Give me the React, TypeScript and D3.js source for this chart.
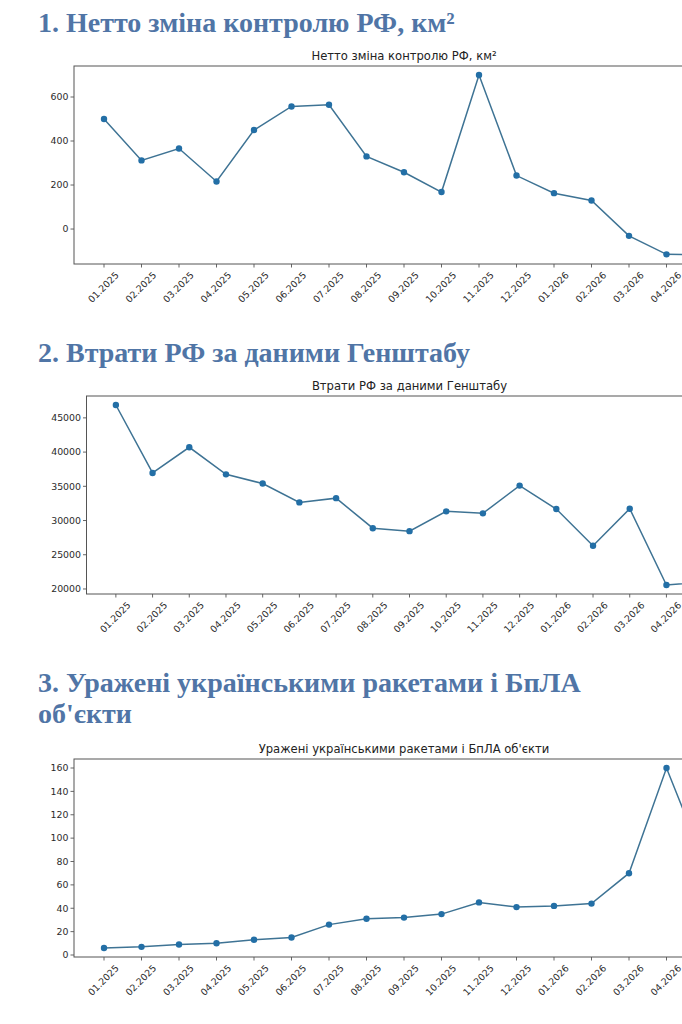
import * as d3 from "d3";

const months = [
  "01.2025", "02.2025", "03.2025", "04.2025", "05.2025", "06.2025", "07.2025", "08.2025",
  "09.2025", "10.2025", "11.2025", "12.2025", "01.2026", "02.2026", "03.2026", "04.2026", "05.2026"
];

const netControl = [500, 312, 366, 216, 450, 557, 565, 330, 258, 168, 700, 243, 163, 130, -31, -115, -118];
const losses = [46880, 36950, 40700, 36750, 35400, 32650, 33270, 28880, 28450, 31340, 31050, 35100, 31680, 26320, 31730, 20580, 21050];
const strikes = [6, 7, 9, 10, 13, 15, 26, 31, 32, 35, 45, 41, 42, 44, 70, 160, 80];

const netTicks = [0, 200, 400, 600];
const lossTicks = [20000, 25000, 30000, 35000, 40000, 45000];
const strikeTicks = [0, 20, 40, 60, 80, 100, 120, 140, 160];

const headingColor = "#5075a6";
const lineColor = "#3e7394";
const markerColor = "#236fa6";
const frameColor = "#555";
const tickFont = 9.4;

type PanelProps = {
  heading: string[];
  headingY: number;
  title: string;
  values: number[];
  ticks: number[];
  left: number;
  right: number;
  top: number;
  bottom: number;
};

function Panel({ heading, headingY, title, values, ticks, left, right, top, bottom }: PanelProps) {
  const n = values.length;
  const x = d3.scaleLinear([-0.8, n - 1 + 0.8], [left, right]);
  const [lo, hi] = d3.extent(values) as [number, number];
  const pad = (hi - lo) * 0.05;
  const y = d3.scaleLinear([lo - pad, hi + pad], [bottom, top]);
  const line = d3
    .line<number>()
    .x((_, i) => x(i))
    .y((v) => y(v));

  // rotated label geometry (matplotlib rotation=45, ha=center)
  const labelLen = 4.134 * tickFont;
  const ascent = 0.76 * tickFont;
  const descent = 0.24 * tickFont;
  const labelDx = (labelLen + ascent - descent) * 0.3535;
  const labelDy = 3.5 + 3.2 + ascent * 0.707;

  return (
    <g>
      {heading.map((lineText, i) => (
        <text
          key={lineText}
          x={38}
          y={headingY + i * 31}
          fill={headingColor}
          fontFamily="'Liberation Serif', 'Times New Roman', serif"
          fontWeight="bold"
          fontSize={28}
        >
          {lineText}
        </text>
      ))}
      <text
        x={(left + right) / 2}
        y={top - 6}
        textAnchor="middle"
        fontFamily="'DejaVu Sans', sans-serif"
        fontSize={11.6}
        fill="#222"
      >
        {title}
      </text>
      <rect x={left} y={top} width={right - left} height={bottom - top} fill="none" stroke={frameColor} strokeWidth={1} />
      {ticks.map((t) => (
        <g key={t}>
          <line x1={left - 3.5} x2={left} y1={y(t)} y2={y(t)} stroke={frameColor} strokeWidth={0.9} />
          <text
            x={left - 5.5}
            y={y(t)}
            dy="0.35em"
            textAnchor="end"
            fontFamily="'DejaVu Sans', sans-serif"
            fontSize={tickFont}
            fill="#2a2a2a"
          >
            {t}
          </text>
        </g>
      ))}
      {months.map((m, i) => (
        <g key={m}>
          <line x1={x(i)} x2={x(i)} y1={bottom} y2={bottom + 3.5} stroke={frameColor} strokeWidth={0.9} />
          <text
            transform={`translate(${x(i) + labelDx}, ${bottom + labelDy}) rotate(-45)`}
            textAnchor="end"
            fontFamily="'DejaVu Sans', sans-serif"
            fontSize={tickFont}
            fill="#2a2a2a"
          >
            {m}
          </text>
        </g>
      ))}
      <path d={line(values) ?? undefined} fill="none" stroke={lineColor} strokeWidth={1.5} />
      {values.map((v, i) => (
        <circle key={months[i]} cx={x(i)} cy={y(v)} r={3.2} fill={markerColor} />
      ))}
    </g>
  );
}

export default function App() {
  return (
    <div style={{ position: "absolute", left: 0, top: 0, width: 682, height: 1024, overflow: "hidden", background: "#fff" }}>
      <svg width={682} height={1024} viewBox="0 0 682 1024">
        <rect width={682} height={1024} fill="#fff" />
        <Panel
          heading={["1. Нетто зміна контролю РФ, км²"]}
          headingY={32}
          title="Нетто зміна контролю РФ, км²"
          values={netControl}
          ticks={netTicks}
          left={74}
          right={734}
          top={66}
          bottom={264}
        />
        <Panel
          heading={["2. Втрати РФ за даними Генштабу"]}
          headingY={362}
          title="Втрати РФ за даними Генштабу"
          values={losses}
          ticks={lossTicks}
          left={86.5}
          right={732.5}
          top={396}
          bottom={594}
        />
        <Panel
          heading={["3. Уражені українськими ракетами і БпЛА", "об'єкти"]}
          headingY={692}
          title="Уражені українськими ракетами і БпЛА об'єкти"
          values={strikes}
          ticks={strikeTicks}
          left={74}
          right={734}
          top={759}
          bottom={957}
        />
      </svg>
    </div>
  );
}
